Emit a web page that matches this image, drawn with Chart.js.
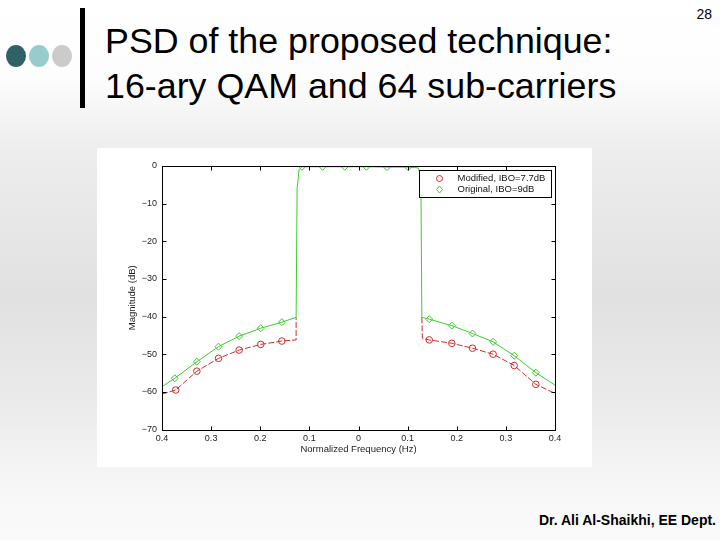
<!DOCTYPE html>
<html>
<head>
<meta charset="utf-8">
<script src="https://cdn.jsdelivr.net/npm/chart.js@4.4.1/dist/chart.umd.min.js"></script>
<style>
  html, body { margin: 0; padding: 0; }
  body {
    width: 720px; height: 540px; position: relative; overflow: hidden;
    font-family: "Liberation Sans", Arial, sans-serif;
    background: linear-gradient(to bottom, #ffffff 0%, #fdfdfd 14%, #ededed 28%, #e1e1e1 55%, #ebebeb 75%, #f8f8f8 92%, #fafafa 100%);
  }
  .dot { position: absolute; width: 20px; height: 22px; border-radius: 50%; top: 45px; }
  #bar { position: absolute; left: 80px; top: 8px; width: 5px; height: 100px; background: #000; }
  #title { position: absolute; left: 105px; top: 19px; font-size: 35.8px; line-height: 45px; color: #000; white-space: nowrap; }
  #page { position: absolute; right: 8px; top: 6px; font-size: 14px; color: #000; }
  #footer { position: absolute; right: 4px; top: 512px; font-size: 14px; font-weight: bold; color: #000; white-space: nowrap; }
  #plotbox { position: absolute; left: 97px; top: 148px; width: 495px; height: 319px; background: #fff; }
</style>
</head>
<body>
<div class="dot" style="left:6px;background:#2f6167"></div>
<div class="dot" style="left:29px;background:#98cccc"></div>
<div class="dot" style="left:52px;background:#cbcbcb"></div>
<div id="bar"></div>
<div id="title">PSD of the proposed technique:<br>16-ary QAM and 64 sub-carriers</div>
<div id="page">28</div>
<div id="footer">Dr. Ali Al-Shaikhi, EE Dept.</div>
<div id="plotbox"><canvas id="psd"></canvas></div>
<script>
// curves (frequency in Hz normalised, magnitude in dB)
const greenFreq = [-0.4, -0.374, -0.329, -0.285, -0.243, -0.199, -0.156, -0.127, -0.125, -0.121, -0.115, -0.073, -0.028, 0.016, 0.058, 0.101, 0.122, 0.127, 0.129, 0.144, 0.190, 0.232, 0.274, 0.317, 0.361, 0.4];
const greenDb = [-58.6, -56.4, -52.0, -48.0, -45.2, -43.1, -41.5, -40.2, -6, -1, -0.2, -0.2, -0.2, -0.2, -0.3, -0.3, -0.5, -3, -40.2, -40.7, -42.4, -44.5, -46.7, -50.4, -54.9, -58.2];
// the red passband is hidden under the green one, so only its sidebands are drawn
const redFreq = [-0.4, -0.372, -0.329, -0.285, -0.243, -0.199, -0.156, -0.127, -0.127, 0, 0.129, 0.130, 0.144, 0.190, 0.232, 0.274, 0.317, 0.361, 0.4];
const redDb = [-60.6, -59.5, -54.5, -51.1, -48.9, -47.4, -46.5, -46.2, -40.2, null, -40.2, -45.8, -46.2, -47.1, -48.4, -50.0, -53.0, -58.0, -60.4];

// marker positions
const greenMarkFreq = [-0.374, -0.329, -0.285, -0.243, -0.199, -0.156, -0.115, -0.073, -0.028, 0.016, 0.058, 0.101, 0.144, 0.190, 0.232, 0.274, 0.317, 0.361];
const greenMarkDb = [-56.4, -52.0, -48.0, -45.2, -43.1, -41.5, -0.2, -0.2, -0.2, -0.2, -0.3, -0.3, -40.7, -42.4, -44.5, -46.7, -50.4, -54.9];
const redMarkFreq = [-0.372, -0.329, -0.285, -0.243, -0.199, -0.156, 0.144, 0.190, 0.232, 0.274, 0.317, 0.361];
const redMarkDb = [-59.5, -54.5, -51.1, -48.9, -47.4, -46.5, -46.2, -47.1, -48.4, -50.0, -53.0, -58.0];

const seriesLabels = ["Modified, IBO=7.7dB", "Original, IBO=9dB"];
const xTicks = [-0.4, -0.3, -0.2, -0.1, 0, 0.1, 0.2, 0.3, 0.4];
const yTicks = [0, -10, -20, -30, -40, -50, -60, -70];

const RED = "#d42c2c";
const GREEN = "#3ccf2a";

function pts(xs, ys) {
  return xs.map(function(x, i) { return { x: x, y: ys[i] }; });
}

// matlab style box: frame, inward ticks, legend inside the axes
const matlabBox = {
  id: "matlabBox",
  afterDatasetsDraw: function(chart) {
    const ctx = chart.ctx;
    const a = chart.chartArea;
    const xs = chart.scales.x;
    const ys = chart.scales.y;
    const L = Math.round(a.left) + 0.5, R = Math.round(a.right) + 0.5;
    const T = Math.round(a.top) + 0.5, B = Math.round(a.bottom) + 0.5;
    ctx.save();
    ctx.strokeStyle = "#000";
    ctx.lineWidth = 1;
    ctx.beginPath();
    xTicks.forEach(function(v) {
      const px = Math.round(xs.getPixelForValue(v)) + 0.5;
      ctx.moveTo(px, B); ctx.lineTo(px, B - 4);
      ctx.moveTo(px, T); ctx.lineTo(px, T + 4);
    });
    yTicks.forEach(function(v) {
      const py = Math.round(ys.getPixelForValue(v)) + 0.5;
      ctx.moveTo(L, py); ctx.lineTo(L + 4, py);
      ctx.moveTo(R, py); ctx.lineTo(R - 4, py);
    });
    ctx.stroke();
    ctx.strokeRect(L, T, R - L, B - T);

    // legend
    const bw = 132, bh = 27;
    const bx = Math.round(a.right) - 4 - bw + 0.5, by = Math.round(a.top) + 4 + 0.5;
    ctx.fillStyle = "#fff";
    ctx.fillRect(bx, by, bw, bh);
    ctx.strokeRect(bx, by, bw, bh);
    const mx = bx + 20;
    const r1 = by + 8, r2 = by + 19;
    ctx.lineWidth = 1;
    ctx.strokeStyle = RED;
    ctx.beginPath(); ctx.arc(mx, r1, 3, 0, Math.PI * 2); ctx.stroke();
    ctx.strokeStyle = GREEN;
    ctx.beginPath();
    ctx.moveTo(mx, r2 - 3.5); ctx.lineTo(mx + 3, r2); ctx.lineTo(mx, r2 + 3.5); ctx.lineTo(mx - 3, r2); ctx.closePath();
    ctx.stroke();
    ctx.fillStyle = "#111";
    ctx.font = "9.5px 'Liberation Sans', Arial, sans-serif";
    ctx.textBaseline = "middle";
    ctx.fillText(seriesLabels[0], bx + 38, r1);
    ctx.fillText(seriesLabels[1], bx + 38, r2);
    ctx.restore();
  }
};

const tickFont = { family: "'Liberation Sans', Arial, sans-serif", size: 9 };

new Chart(document.getElementById("psd"), {
  type: "line",
  data: {
    datasets: [
      {
        label: seriesLabels[1], data: pts(greenMarkFreq, greenMarkDb), showLine: false,
        pointStyle: "rectRot", pointRadius: 3.5, borderColor: GREEN, backgroundColor: "rgba(0,0,0,0)", pointBorderWidth: 1
      },
      {
        label: seriesLabels[1] + " line", data: pts(greenFreq, greenDb), borderColor: GREEN, borderWidth: 1,
        pointRadius: 0, tension: 0, fill: false
      },
      {
        label: seriesLabels[0], data: pts(redMarkFreq, redMarkDb), showLine: false,
        pointStyle: "circle", pointRadius: 3.3, borderColor: RED, backgroundColor: "rgba(0,0,0,0)", pointBorderWidth: 1
      },
      {
        label: seriesLabels[0] + " line", data: pts(redFreq, redDb), borderColor: RED, borderWidth: 1,
        borderDash: [6, 2], pointRadius: 0, tension: 0, fill: false, spanGaps: false
      }
    ]
  },
  options: {
    responsive: true,
    maintainAspectRatio: false,
    animation: false,
    layout: { padding: { top: 18, right: 37, left: 0, bottom: 0 } },
    scales: {
      x: {
        type: "linear", min: -0.4, max: 0.4,
        afterFit: function(s) { s.height = 37.5; },
        afterBuildTicks: function(s) { s.ticks = xTicks.map(function(v) { return { value: v }; }); },
        grid: { display: false, drawTicks: false },
        border: { display: false },
        ticks: {
          padding: 4, color: "#222", font: tickFont, maxRotation: 0,
          callback: function(v) { const t = Math.abs(v).toFixed(1); return t === "0.0" ? "0" : t; }
        },
        title: { display: true, text: "Normalized Frequency (Hz)", color: "#222", padding: 12, font: { family: tickFont.family, size: 9.5 } }
      },
      y: {
        min: -70, max: 0,
        afterFit: function(s) { s.width = 65; },
        afterBuildTicks: function(s) { s.ticks = yTicks.map(function(v) { return { value: v }; }); },
        grid: { display: false, drawTicks: false },
        border: { display: false },
        ticks: {
          padding: 5, color: "#222", font: tickFont,
          callback: function(v) { return v === 0 ? "0" : "\u2212" + Math.abs(v); }
        },
        title: { display: true, text: "Magnitude (dB)", color: "#222", padding: 30, font: { family: tickFont.family, size: 9.5 } }
      }
    },
    plugins: {
      legend: { display: false },
      tooltip: { enabled: false }
    }
  },
  plugins: [matlabBox]
});
</script>
</body>
</html>
